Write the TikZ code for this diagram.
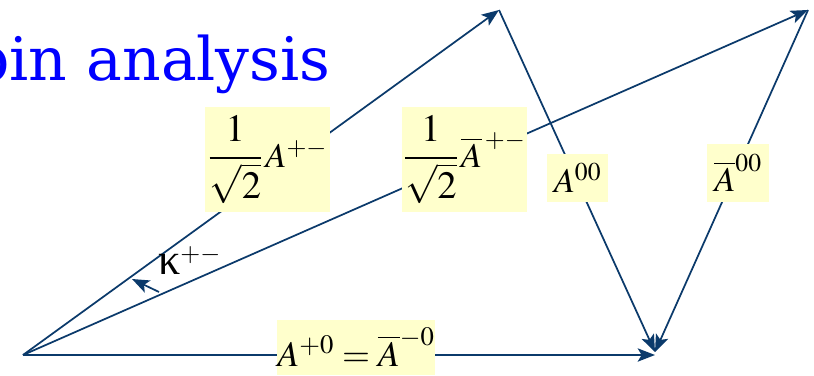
\documentclass[tikz,border=0pt]{standalone}
\usepackage{mathptmx}
\usepackage{fontspec}
\newfontfamily\titlefont{DejaVu Serif}
\newfontfamily\tms{Liberation Serif}
\usetikzlibrary{arrows.meta}
\definecolor{navy}{HTML}{0B3A6B}
\definecolor{lbl}{HTML}{FFFFCC}
\definecolor{ttl}{HTML}{0000FF}
\newcommand{\fracpart}{{\fontsize{29}{34}\selectfont$\displaystyle\frac{1}{\sqrt{2}}$}}
\begin{document}
\begin{tikzpicture}[x=0.75pt,y=-0.75pt,
  vec/.style={draw=navy, line width=1.3pt, -{Stealth[length=13pt,width=10pt,inset=3pt]}},
  lab/.style={fill=lbl, inner sep=0pt, font=\fontsize{26}{30}\selectfont},
  ttlstyle/.style={text=ttl, inner sep=0pt, font=\titlefont\fontsize{45}{52}\selectfont}]
\clip (0,0) rectangle (814,375);
\fill[white] (0,0) rectangle (814,375);
\coordinate (O) at (23,355);
\coordinate (T1) at (499,10);
\coordinate (T2) at (808,10);
\coordinate (B) at (655,352);
\coordinate (H) at (655,355);
\coordinate (k1) at (159,292);
\coordinate (k2) at (132,279);
\node[ttlstyle, anchor=base east] (title) at (331,80) {pin analysis};
\draw[vec] (O) -- (T1);
\draw[vec] (O) -- (T2);
\draw[vec] (T1) -- (B);
\draw[vec] (T2) -- (B);
\draw[vec] (O) -- (H);
\draw[vec] (k1) -- (k2);
\node[lab, minimum width=93.75pt, minimum height=78.75pt] (l1) at (267.5,159.5) {\fracpart\kern2pt$A^{+-}$};
\node[lab, minimum width=93.75pt, minimum height=78.75pt] (l2) at (464.5,159.5) {\fracpart\kern2pt$\overline{A}^{\,+-}$};
\node[lab, minimum width=45.75pt, minimum height=36pt] (l3) at (577.5,178) {$A^{00}$};
\node[lab, minimum width=46.5pt, minimum height=43.5pt] (l4) at (738,173) {$\overline{A}^{00}$};
\node[lab, minimum width=118.5pt, minimum height=41.25pt, font=\fontsize{27}{32}\selectfont] (l5) at (356,347.5) {$A^{+0}=\overline{A}^{-0}$};
\node[inner sep=0pt, font=\fontsize{26}{30}\selectfont, anchor=base west] (kap) at (158,274) {{\tms\fontsize{33}{36}\selectfont κ}$^{+-}$};
\end{tikzpicture}
\end{document}
